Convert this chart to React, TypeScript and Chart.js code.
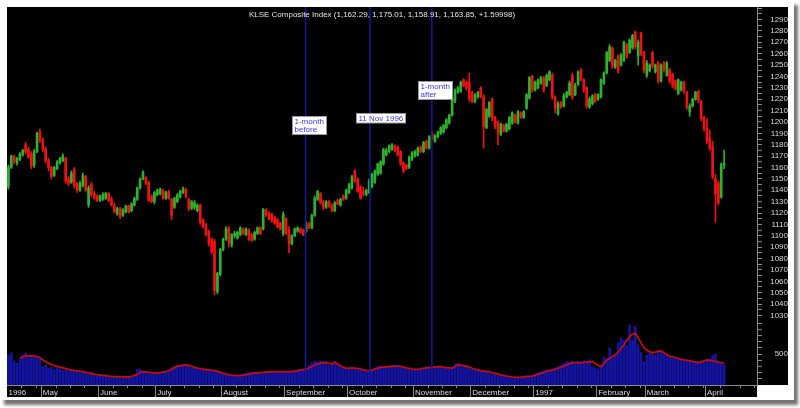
import React, { useEffect, useRef } from 'react';
import { Chart, registerables } from 'chart.js';

Chart.register(...registerables);

const FONT = "Arial, 'Liberation Sans', sans-serif";
const TITLE = 'KLSE Composite Index (1,162.29, 1,175.01, 1,158.91, 1,163.85, +1.59998)';

const monthNames = ['1996', 'May', 'June', 'July', 'August', 'September', 'October', 'November', 'December', '1997', 'February', 'March', 'April'];
const monthDays = [12, 20, 20, 23, 22, 22, 23, 20, 22, 22, 17, 21, 7];
const totalSlots = 262;

const open = [
  1143,1160,1170,1164,1167,1171,1180,1176,1172,1162,
  1174,1191,1184,1176,1166,1160,1153,1159,1164,1166,
  1168,1150,1147,1158,1146,1140,1144,1152,1127,1145,
  1137,1135,1131,1132,1133,1137,1132,1127,1119,1124,
  1118,1121,1126,1122,1127,1132,1142,1150,1151,1147,
  1135,1130,1136,1137,1140,1133,1139,1132,1125,1130,
  1134,1138,1141,1132,1124,1125,1122,1127,1114,1110,
  1104,1097,1095,1051,1066,1088,1097,1107,1092,1100,
  1098,1101,1106,1101,1105,1101,1097,1102,1107,1106,
  1123,1120,1119,1116,1114,1111,1102,1115,1106,1093,
  1100,1104,1106,1105,1104,1111,1107,1118,1132,1137,
  1130,1125,1130,1127,1122,1131,1127,1135,1133,1138,
  1142,1157,1150,1143,1139,1136,1138,1143,1147,1154,
  1155,1163,1171,1174,1176,1179,1178,1174,1164,1162,
  1160,1167,1170,1171,1178,1174,1183,1177,1190,1183,
  1187,1190,1191,1195,1199,1206,1218,1226,1227,1237,
  1235,1235,1226,1218,1222,1230,1222,1195,1205,1220,
  1204,1200,1189,1197,1192,1194,1199,1206,1199,1208,
  1204,1212,1221,1240,1228,1230,1234,1239,1232,1237,
  1241,1222,1207,1217,1214,1222,1224,1241,1224,1233,
  1246,1237,1230,1213,1216,1224,1220,1222,1234,1243,
  1254,1265,1248,1258,1250,1254,1268,1261,1265,1279,
  1258,1278,1261,1241,1245,1261,1244,1252,1236,1252,
  1241,1246,1242,1236,1225,1228,1235,1226,1209,1214,
  1220,1227,1218,1204,1194,1186,1178,1150,1146,1134,
  1162.29
];
const high = [
  1162,1171,1171,1169,1173,1176,1182,1178,1174,1176,
  1191,1194,1186,1178,1168,1161,1161,1166,1169,1172,
  1169,1152,1157,1160,1147,1148,1155,1153,1144,1147,
  1139,1136,1136,1138,1138,1138,1134,1129,1125,1125,
  1124,1127,1127,1129,1134,1143,1151,1157,1152,1148,
  1136,1139,1141,1142,1141,1139,1140,1133,1134,1137,
  1140,1143,1142,1133,1131,1131,1128,1128,1115,1111,
  1105,1098,1097,1068,1089,1098,1108,1108,1102,1104,
  1104,1108,1107,1107,1106,1102,1104,1108,1108,1124,
  1124,1121,1120,1117,1115,1112,1121,1116,1108,1101,
  1107,1108,1107,1106,1112,1112,1119,1135,1140,1138,
  1131,1131,1131,1128,1130,1132,1133,1136,1141,1146,
  1153,1158,1151,1144,1143,1141,1150,1155,1158,1164,
  1166,1177,1177,1180,1181,1180,1179,1175,1165,1163,
  1170,1174,1175,1178,1179,1183,1184,1188,1191,1189,
  1192,1196,1198,1203,1207,1222,1229,1231,1236,1238,
  1236,1243,1227,1225,1227,1231,1224,1212,1218,1221,
  1205,1201,1199,1198,1199,1205,1209,1207,1210,1209,
  1210,1225,1240,1241,1236,1238,1240,1240,1242,1245,
  1243,1223,1218,1218,1225,1227,1236,1243,1234,1245,
  1247,1238,1231,1222,1224,1225,1225,1238,1244,1262,
  1268,1266,1255,1259,1260,1271,1269,1273,1277,1280,
  1272,1279,1262,1254,1251,1262,1251,1253,1251,1253,
  1253,1247,1243,1237,1238,1236,1236,1227,1216,1221,
  1227,1228,1219,1205,1203,1193,1183,1154,1148,1164,
  1175.01
];
const low = [
  1141,1159,1163,1162,1166,1170,1172,1168,1159,1160,
  1173,1182,1174,1164,1157,1150,1152,1158,1163,1165,
  1146,1144,1146,1142,1138,1139,1143,1139,1125,1134,
  1132,1130,1130,1131,1132,1130,1126,1120,1118,1115,
  1117,1120,1120,1121,1126,1131,1141,1149,1145,1130,
  1129,1128,1135,1136,1132,1132,1132,1114,1124,1129,
  1133,1137,1133,1122,1123,1123,1121,1110,1107,1100,
  1091,1084,1048,1049,1065,1087,1096,1090,1090,1098,
  1097,1100,1101,1100,1096,1095,1096,1101,1101,1105,
  1117,1114,1112,1110,1107,1105,1100,1101,1085,1092,
  1099,1103,1102,1100,1103,1106,1106,1117,1131,1128,
  1123,1124,1125,1121,1121,1127,1126,1131,1132,1137,
  1141,1147,1138,1132,1135,1135,1137,1142,1146,1153,
  1154,1162,1170,1173,1175,1174,1170,1162,1155,1158,
  1159,1166,1169,1170,1173,1173,1176,1176,1184,1182,
  1186,1189,1190,1194,1198,1205,1217,1225,1226,1231,
  1228,1218,1217,1217,1221,1221,1177,1194,1204,1201,
  1194,1180,1188,1191,1191,1193,1198,1199,1198,1203,
  1203,1211,1220,1226,1227,1229,1233,1226,1231,1236,
  1220,1208,1206,1212,1213,1221,1223,1220,1223,1232,
  1236,1226,1212,1212,1215,1217,1219,1221,1233,1242,
  1253,1247,1247,1243,1249,1253,1256,1260,1264,1264,
  1250,1258,1243,1239,1244,1247,1243,1234,1235,1244,
  1240,1234,1230,1228,1224,1227,1225,1211,1205,1213,
  1219,1217,1201,1192,1181,1175,1150,1112,1127,1133,
  1158.91
];
const close = [
  1160,1170,1165,1168,1172,1175,1174,1169,1161,1174,
  1190,1184,1176,1166,1160,1152,1160,1165,1168,1170,
  1148,1146,1155,1144,1140,1146,1153,1140,1142,1136,
  1133,1131,1135,1136,1137,1131,1127,1121,1124,1117,
  1123,1126,1121,1128,1133,1142,1150,1156,1146,1131,
  1130,1138,1140,1141,1133,1138,1133,1118,1133,1136,
  1139,1141,1135,1124,1130,1129,1127,1112,1108,1101,
  1093,1086,1052,1067,1088,1097,1106,1094,1101,1102,
  1103,1107,1102,1106,1097,1096,1103,1107,1102,1123,
  1118,1115,1113,1111,1108,1106,1119,1102,1093,1100,
  1106,1107,1103,1101,1110,1107,1118,1133,1139,1129,
  1125,1130,1126,1122,1129,1128,1132,1132,1140,1145,
  1152,1148,1139,1133,1137,1140,1148,1154,1157,1163,
  1165,1176,1175,1179,1180,1175,1171,1163,1157,1159,
  1169,1173,1174,1177,1174,1182,1177,1187,1185,1188,
  1191,1195,1197,1202,1206,1221,1228,1230,1235,1232,
  1230,1220,1218,1224,1226,1222,1196,1211,1217,1203,
  1196,1191,1198,1192,1198,1204,1208,1200,1209,1204,
  1209,1224,1239,1228,1235,1237,1239,1228,1241,1244,
  1222,1212,1216,1213,1223,1226,1234,1222,1232,1244,
  1237,1228,1214,1220,1223,1218,1224,1237,1243,1261,
  1266,1249,1254,1245,1259,1270,1258,1272,1276,1266,
  1270,1260,1245,1252,1250,1249,1250,1236,1250,1246,
  1252,1236,1232,1229,1237,1235,1227,1213,1214,1220,
  1226,1219,1203,1194,1183,1177,1152,1137,1129,1162.25,
  1163.85
];
const volume = [
  480,520,390,350,420,480,520,450,470,490,450,420,
  300,320,270,290,250,300,260,240,270,230,250,
  220,240,200,230,190,170,200,160,150,170,140,
  150,130,140,120,135,125,110,130,140,125,160,
  250,260,230,200,190,210,180,200,195,220,210,
  240,280,300,320,300,330,340,310,280,270,250,
  260,250,240,255,220,240,230,200,180,170,160,
  150,140,160,170,180,190,200,210,190,200,205,
  200,215,210,220,225,210,215,220,205,215,225,
  230,240,250,260,270,320,360,385,370,390,380,
  360,320,350,380,330,300,280,270,260,290,280,
  260,250,230,240,220,250,270,300,310,290,300,
  310,320,300,310,290,280,260,250,240,260,250,
  270,280,300,290,280,300,310,290,280,270,260,
  280,340,350,320,300,310,280,260,240,230,220,
  240,210,200,180,170,150,160,140,130,125,120,
  115,130,120,140,150,145,160,180,200,210,230,
  250,240,260,280,300,320,350,380,370,390,350,
  380,360,390,370,410,300,280,260,320,450,420,
  600,470,500,680,760,720,640,970,730,950,650,
  530,370,480,520,530,480,550,560,500,470,450,
  460,430,410,420,400,380,390,370,360,380,370,
  400,420,410,480,500,380,360,340
];
const volumeMA = [
  null,null,null,null,435,450,470,473,470,465,
  460,440,403,380,350,330,315,300,290,278,
  265,252,242,235,228,220,215,205,195,185,
  175,167,161,155,150,145,140,136,134,132,
  130,129,129,140,155,170,200,215,210,205,
  200,195,194,200,208,215,230,255,280,300,
  310,318,323,315,300,285,274,265,258,250,
  243,237,231,220,205,190,177,168,160,155,
  150,152,158,165,175,185,194,198,200,203,
  206,210,213,215,215,216,215,214,215,215,
  222,232,242,250,258,275,300,323,340,352,
  362,366,350,339,366,340,310,285,274,272,
  274,274,268,258,245,235,231,240,255,270,
  285,290,290,295,300,304,306,300,290,278,
  268,258,253,253,260,268,276,282,285,290,
  293,295,290,282,275,269,300,323,320,312,
  306,290,270,253,243,233,225,218,215,200,
  188,175,163,155,145,138,131,126,124,126,
  130,135,140,145,158,175,189,205,220,232,
  242,255,270,285,305,325,345,360,360,360,
  360,365,370,374,376,350,315,295,350,403,
  430,460,484,530,590,645,720,780,825,834,
  760,680,600,565,540,521,530,545,548,520,
  490,465,456,440,425,415,405,400,390,380,
  370,360,375,390,400,403,395,380,365,360,
  358
];

const eventDays = [103.8, 126.3, 147.9];
const eventLabels = [['1-month', 'before'], ['11 Nov 1996'], ['1-month', 'after']];
const eventLabelPrices = [1205, 1208, 1236];

const priceMin = 1026;
const priceMax = 1301;
const priceTickFirst = 1030;
const priceTickLast = 1300;
const priceTickStep = 5;
const priceLabelMin = 1030;
const priceLabelMax = 1290;
const volMax = 1050;
const volTickStep = 100;
const volLabel = 500;

const UP = '#2db32d';
const DOWN = '#f01212';
const TEXT = '#dcdcdc';
const AXIS = '#8a8a8a';

const labels: string[] = [];
const monthStarts: number[] = [];
monthNames.forEach((name, m) => {
  monthStarts.push(labels.length);
  for (let d = 0; d < monthDays[m]; d++) labels.push(name);
});
const dataEnd = labels.length;
while (labels.length < totalSlots) labels.push('');
const monthStartSet = new Set(monthStarts);

const overlayPlugin = {
  id: 'overlay',
  beforeDraw(chart: any) {
    const { ctx, chartArea, width, height } = chart;
    ctx.save();
    ctx.fillStyle = '#000';
    ctx.fillRect(0, 0, width, height);
    ctx.fillStyle = '#fff';
    ctx.fillRect(chartArea.right, chartArea.bottom, width - chartArea.right, height - chartArea.bottom);
    ctx.restore();
  },
  afterDatasetsDraw(chart: any) {
    const { ctx, chartArea, scales } = chart;
    const x = scales.x;
    const y = scales.y;
    ctx.save();
    ctx.strokeStyle = '#1616a0';
    ctx.lineWidth = 1.5;
    eventDays.forEach((d) => {
      const px = x.getPixelForValue(d);
      ctx.beginPath();
      ctx.moveTo(px, chartArea.top);
      ctx.lineTo(px, chartArea.bottom);
      ctx.stroke();
    });
    ctx.font = `8px ${FONT}`;
    ctx.textAlign = 'left';
    ctx.textBaseline = 'top';
    eventDays.forEach((d, k) => {
      const px = x.getPixelForValue(d);
      const lines = eventLabels[k];
      const w = Math.ceil(Math.max(...lines.map((l) => ctx.measureText(l).width))) + 4;
      const h = lines.length * 8.5 + 1;
      const bx = Math.round(px - 14) + 0.5;
      const by = Math.round(y.getPixelForValue(eventLabelPrices[k])) + 0.5;
      ctx.fillStyle = '#ffffff';
      ctx.fillRect(bx, by, w, h);
      ctx.strokeStyle = '#9a9a9a';
      ctx.lineWidth = 1;
      ctx.strokeRect(bx, by, w, h);
      ctx.fillStyle = '#3636f2';
      lines.forEach((l, j) => ctx.fillText(l, bx + 2, by + 1 + j * 8.5));
    });
    ctx.restore();
  },
  afterDraw(chart: any) {
    const { ctx, chartArea, scales } = chart;
    const x = scales.x;
    ctx.save();
    ctx.fillStyle = '#e6e6e6';
    ctx.font = `8px ${FONT}`;
    ctx.textAlign = 'center';
    ctx.textBaseline = 'middle';
    ctx.fillText(TITLE, (chartArea.left + chartArea.right) / 2, 7.5);
    // weekly minor ticks on the date axis
    ctx.strokeStyle = AXIS;
    ctx.lineWidth = 1;
    const starts = [...monthStarts, dataEnd];
    const tick = (k: number) => {
      const px = Math.round(x.getPixelForValue(k - 0.5)) + 0.5;
      ctx.beginPath();
      ctx.moveTo(px, chartArea.bottom);
      ctx.lineTo(px, chartArea.bottom + 3);
      ctx.stroke();
    };
    for (let m = 0; m < monthStarts.length; m++) {
      for (let k = starts[m] + 5; k < starts[m + 1]; k += 5) tick(k);
    }
    for (let k = dataEnd + 5; k < totalSlots; k += 5) tick(k);
    ctx.restore();
  },
};

export default function App() {
  const ref = useRef<HTMLCanvasElement>(null);

  useEffect(() => {
    if (!ref.current) return;
    const upDown = close.map((c, i) => (c >= open[i] ? UP : DOWN));
    const chart = new Chart(ref.current, {
      type: 'bar',
      data: {
        labels,
        datasets: [
          {
            type: 'bar',
            label: 'Volume',
            data: volume,
            yAxisID: 'yVol',
            backgroundColor: '#1414a2',
            barThickness: 2,
            grouped: false,
            order: 4,
          } as any,
          {
            type: 'line',
            label: 'Volume MA',
            data: volumeMA,
            yAxisID: 'yVol',
            borderColor: '#c40c0c',
            borderWidth: 1.8,
            pointRadius: 0,
            tension: 0,
            order: 3,
          } as any,
          {
            type: 'bar',
            label: 'High-Low',
            data: low.map((l, i) => [l, high[i]]),
            yAxisID: 'y',
            backgroundColor: upDown,
            barThickness: 1,
            grouped: false,
            order: 2,
          } as any,
          {
            type: 'bar',
            label: 'Open-Close',
            data: open.map((o, i) => [o, close[i]]),
            yAxisID: 'y',
            backgroundColor: upDown,
            barThickness: 2,
            minBarLength: 1,
            grouped: false,
            order: 1,
          } as any,
        ],
      },
      options: {
        animation: false,
        responsive: false,
        events: [],
        layout: { padding: 0 },
        plugins: {
          legend: { display: false },
          tooltip: { enabled: false },
          title: { display: false },
        },
        scales: {
          x: {
            type: 'category',
            position: 'bottom',
            offset: true,
            grid: {
              offset: true,
              drawOnChartArea: false,
              drawTicks: true,
              tickLength: 12,
              lineWidth: 1,
              color: (ctx: any) => (monthStartSet.has(ctx.index) ? AXIS : 'rgba(0,0,0,0)'),
            },
            border: { display: true, color: AXIS },
            ticks: {
              autoSkip: false,
              maxRotation: 0,
              minRotation: 0,
              align: 'start',
              padding: -9,
              color: TEXT,
              font: { family: FONT, size: 8 },
              callback: (_v: any, i: number) => (monthStartSet.has(i) ? labels[i] : ''),
            },
            afterFit: (s: any) => {
              s.height = 12;
              s.paddingLeft = 0;
              s.paddingRight = 0;
            },
          } as any,
          y: {
            type: 'linear',
            position: 'right',
            stack: 'right',
            stackWeight: 313,
            min: priceMin,
            max: priceMax,
            grid: { drawOnChartArea: false, tickLength: 5, color: AXIS },
            border: { display: true, color: AXIS },
            afterBuildTicks: (s: any) => {
              const t: any[] = [];
              for (let v = priceTickFirst; v <= priceTickLast; v += priceTickStep) t.push({ value: v });
              s.ticks = t;
            },
            ticks: {
              autoSkip: false,
              crossAlign: 'far',
              padding: 7,
              color: TEXT,
              font: { family: FONT, size: 8 },
              callback: (v: any) =>
                v % 10 === 0 && v >= priceLabelMin && v <= priceLabelMax ? String(v) : '',
            },
            afterFit: (s: any) => {
              s.width = 31;
              s.paddingTop = 0;
              s.paddingBottom = 0;
            },
          } as any,
          yVol: {
            type: 'linear',
            position: 'right',
            stack: 'right',
            stackWeight: 65,
            min: 0,
            max: volMax,
            grid: { drawOnChartArea: false, tickLength: 5, color: AXIS },
            border: { display: true, color: AXIS },
            afterBuildTicks: (s: any) => {
              const t: any[] = [];
              for (let v = volTickStep; v < volMax; v += volTickStep) t.push({ value: v });
              s.ticks = t;
            },
            ticks: {
              autoSkip: false,
              crossAlign: 'far',
              padding: 11,
              color: TEXT,
              font: { family: FONT, size: 8 },
              callback: (v: any) => (v === volLabel ? String(v) : ''),
            },
            afterFit: (s: any) => {
              s.width = 31;
              s.paddingTop = 0;
              s.paddingBottom = 0;
            },
          } as any,
        },
      } as any,
      plugins: [overlayPlugin],
    });
    return () => chart.destroy();
  }, []);

  return (
    <div style={{ position: 'fixed', left: 0, top: 0, width: 800, height: 408, background: '#ffffff', overflow: 'hidden' }}>
      <div
        style={{
          position: 'absolute',
          left: 0,
          top: 0,
          width: 794,
          height: 400,
          background: '#ffffff',
          boxShadow: '4px 5px 3px rgba(0,0,0,0.55)',
        }}
      />
      <div style={{ position: 'absolute', left: 7, top: 7, width: 781, height: 390 }}>
        <canvas ref={ref} width={781} height={390} style={{ display: 'block', width: 781, height: 390 }} />
      </div>
    </div>
  );
}
